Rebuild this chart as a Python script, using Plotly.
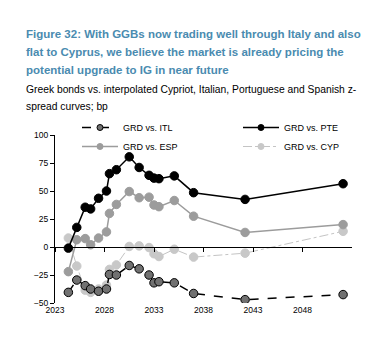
import plotly.graph_objects as go

# Maturities (decimal years) of the Greek bonds on the curve
maturity = [2024.35, 2025.2, 2026.05, 2026.6, 2027.4, 2028.2, 2028.5, 2029.2,
            2030.5, 2031.5, 2032.5, 2033.0, 2033.5, 2035.05, 2037.0, 2042.2, 2052.1]

# Z-spread differentials, bp
grd_vs_itl = [-40.5, -29.5, -34.5, -37.5, -39.5, -37.5, -24.5, -25, -16.5, -19.5,
              -25, -32, -31, -32, -41.5, -47, -42.5]
grd_vs_pte = [-1, 17.5, 35.5, 34, 43.5, 50, 65.5, 69, 80.5, 71, 64, 61.5, 61,
              63.5, 48.5, 42.5, 56.5]
grd_vs_esp = [-22, 6.5, 7.5, 2, 8, 13.5, 30, 38, 49.5, 44, 44.5, 37.5, 36, 41.5,
              27.5, 13, 20]
grd_vs_cyp = [8, -17, -38.5, -40.5, -37.5, -34, -20, -16, 0.5, 1, -0.5, -6, -8.5,
              -2, -9, -5.5, 14]

y_ticks = [-50, -25, 0, 25, 50, 75, 100]
x_ticks = [2023, 2028, 2033, 2038, 2043, 2048]

title_lines = [
    "Figure 32: With GGBs now trading well through Italy and also",
    "flat to Cyprus, we believe the market is already pricing the",
    "potential upgrade to IG in near future",
]
subtitle_lines = [
    "Greek bonds vs. interpolated Cypriot, Italian, Portuguese and Spanish z-",
    "spread curves; bp",
]

FONT = "Liberation Sans, Arial, sans-serif"
W, H = 392, 337
L, R, T, B = 55, 40, 135, 34
Y_MIN, Y_MAX = -50, 100
X_MIN, X_MAX = 2023, 2053

styles = {
    "GRD vs. ITL": dict(y=grd_vs_itl, line=dict(color="black", width=1.5, dash="dash"),
                        fill="#717171", edge="black", legend="legend"),
    "GRD vs. PTE": dict(y=grd_vs_pte, line=dict(color="black", width=1.5),
                        fill="black", edge="black", legend="legend2"),
    "GRD vs. ESP": dict(y=grd_vs_esp, line=dict(color="#9c9c9c", width=1.5),
                        fill="#9c9c9c", edge="#9c9c9c", legend="legend"),
    "GRD vs. CYP": dict(y=grd_vs_cyp, line=dict(color="#c4c4c4", width=1, dash="dashdot"),
                        fill="#c8c8c8", edge="#c8c8c8", legend="legend2"),
}

fig = go.Figure()

# Data series (drawn back to front)
for name in ["GRD vs. CYP", "GRD vs. ESP", "GRD vs. ITL", "GRD vs. PTE"]:
    s = styles[name]
    fig.add_trace(go.Scatter(
        x=maturity, y=s["y"], mode="lines+markers", name=name, showlegend=False,
        line=s["line"],
        marker=dict(size=8.5, color=s["fill"], line=dict(color=s["edge"], width=1)),
    ))

# Legend entries with smaller symbols, split over two columns
for name in ["GRD vs. ITL", "GRD vs. ESP", "GRD vs. PTE", "GRD vs. CYP"]:
    s = styles[name]
    fig.add_trace(go.Scatter(
        x=[None], y=[None], mode="lines+markers", name=name, line=s["line"],
        legend=s["legend"],
        marker=dict(size=6, color=s["fill"], line=dict(color=s["edge"], width=1)),
    ))

# Zero-line axis carrying the tick marks
zero_pos = (0 - Y_MIN) / (Y_MAX - Y_MIN)
fig.add_trace(go.Scatter(x=[None], y=[None], xaxis="x2", showlegend=False))

def py(px):
    return (H - B - px) / (H - B - T)

def px_(x):
    return (x - L) / (W - L - R)

annotations = []
for i, line in enumerate(title_lines):
    annotations.append(dict(
        text="<b>" + line + "</b>", x=px_(24), y=py(34 + i * 18), xref="paper", yref="paper",
        xanchor="left", yanchor="middle", showarrow=False,
        font=dict(family=FONT, size=11.5, color="#4a8bb0")))
for i, line in enumerate(subtitle_lines):
    annotations.append(dict(
        text=line, x=px_(24), y=py(89 + i * 17), xref="paper", yref="paper",
        xanchor="left", yanchor="middle", showarrow=False,
        font=dict(family=FONT, size=10.3, color="black")))

legend_common = dict(orientation="v", xanchor="left", yanchor="top", itemwidth=36,
                     tracegroupgap=0, font=dict(family=FONT, size=9, color="black"),
                     bgcolor="rgba(0,0,0,0)", traceorder="normal")

fig.update_layout(
    width=W, height=H,
    margin=dict(l=L, r=R, t=T, b=B),
    paper_bgcolor="white", plot_bgcolor="white",
    font=dict(family=FONT, size=8.5, color="black"),
    showlegend=True,
    legend=dict(x=px_(77), y=py(113), **legend_common),
    legend2=dict(x=px_(238), y=py(113), **legend_common),
    xaxis=dict(range=[X_MIN, X_MAX], tickvals=x_ticks, ticktext=[str(v) for v in x_ticks],
               showline=False, showgrid=False, zeroline=False, ticks="",
               tickfont=dict(size=8.5)),
    xaxis2=dict(range=[X_MIN, X_MAX], tickvals=x_ticks, overlaying="x", anchor="free",
                position=zero_pos, side="bottom", showline=True, linecolor="black",
                linewidth=1, ticks="outside", ticklen=4, tickcolor="black",
                showticklabels=False, showgrid=False, zeroline=False),
    yaxis=dict(range=[Y_MIN, Y_MAX], tickvals=y_ticks, showline=True, linecolor="black",
               linewidth=1, ticks="outside", ticklen=4, tickcolor="black",
               showgrid=False, zeroline=False, tickfont=dict(size=8.5)),
    annotations=annotations,
)

fig.write_html("out.html")
